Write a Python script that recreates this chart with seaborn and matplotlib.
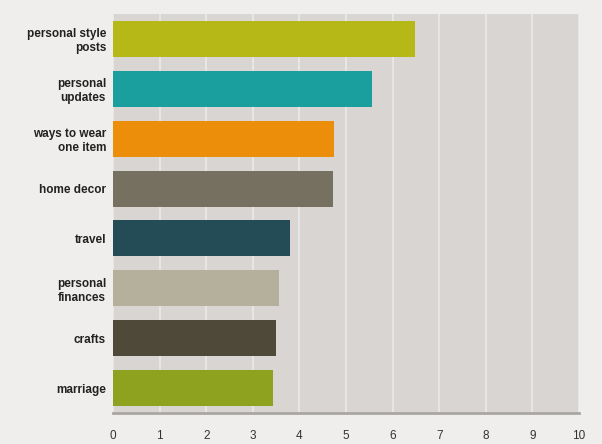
import matplotlib
matplotlib.use('Agg')
import matplotlib.pyplot as plt
import seaborn as sns
import pandas as pd

# Datos del grafico
categorias = ['personal style\nposts', 'personal\nupdates', 'ways to wear\none item',
              'home decor', 'travel', 'personal\nfinances', 'crafts', 'marriage']
valores = [6.48, 5.56, 4.74, 4.72, 3.80, 3.56, 3.50, 3.43]
colores = ['#b5b817', '#1a9e9e', '#ec8e0a', '#767060',
           '#244c57', '#b5b09c', '#4f4939', '#8fa220']
ticks_x = list(range(0, 11))

df = pd.DataFrame({'categoria': categorias, 'valor': valores})

sns.set_style('white')
plt.rcParams['font.family'] = ['Liberation Sans', 'DejaVu Sans']

fig = plt.figure(figsize=(6.02, 4.44), dpi=100)
fig.patch.set_facecolor('#efeeec')
ax = fig.add_axes([113 / 602, 1 - 413 / 444, (579 - 113) / 602, (413 - 14) / 444])
ax.set_facecolor('#d8d5d2')

sns.barplot(data=df, x='valor', y='categoria', hue='categoria', palette=colores,
            legend=False, width=0.72, saturation=1, linewidth=0, ax=ax, zorder=3)

ax.set_xlim(0, 10)
ax.set_xticks(ticks_x)
ax.set_xlabel('')
ax.set_ylabel('')
ax.grid(axis='x', color='#ebeae8', linewidth=1.2, zorder=0)
ax.set_axisbelow(True)

for s in ['top', 'right', 'left']:
    ax.spines[s].set_visible(False)
ax.spines['bottom'].set_color('#a9a7a4')
ax.spines['bottom'].set_linewidth(2)

ax.tick_params(axis='x', length=0, pad=12, labelsize=8.5, labelcolor='#333333')
ax.tick_params(axis='y', length=0, pad=5, labelsize=8.5, labelcolor='#222222')
for lbl in ax.get_yticklabels():
    lbl.set_fontweight('bold')
    lbl.set_horizontalalignment('right')
    lbl.set_multialignment('right')

fig.savefig('out.png', dpi=100, facecolor=fig.get_facecolor())
